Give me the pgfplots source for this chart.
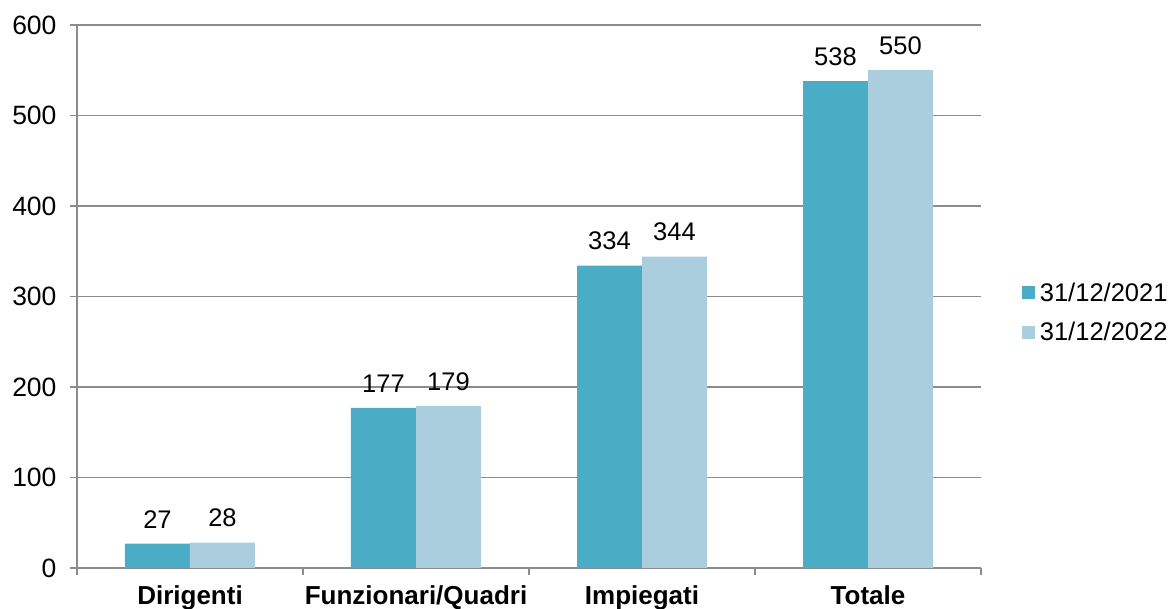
\documentclass[border=0pt]{standalone}
\usepackage{pgfplots}
\pgfplotsset{compat=1.18}
\usepackage{fontspec}
\setmainfont{Liberation Sans}
\definecolor{darkb}{RGB}{75,172,198}
\definecolor{lightb}{RGB}{170,206,222}
\definecolor{gridc}{RGB}{140,140,140}
\begin{document}
\begin{tikzpicture}
\clip (-77pt,-41pt) rectangle (1094pt,568pt);
\begin{axis}[
  at={(0,0)}, anchor=south west,
  scale only axis, width=904pt, height=543pt,
  ymin=0, ymax=600, ytick={0,100,...,600},
  xmin=-0.5, xmax=3.5,
  xtick={-0.5,0.5,1.5,2.5,3.5},
  xticklabels={},
  extra x ticks={0,1,2,3},
  extra x tick labels={Dirigenti, Funzionari/Quadri, Impiegati, Totale},
  extra x tick style={major tick length=0pt, tick label style={font=\fontsize{26}{30}\selectfont\bfseries, yshift=-14pt}},
  axis lines*=left,
  tick align=outside,
  major tick length=7pt,
  ymajorgrids,
  grid style={gridc, line width=1.5pt},
  axis line style={gridc, line width=1.5pt},
  tick style={gridc, line width=1.5pt},
  y tick label style={font=\fontsize{26.5}{30}\selectfont, xshift=-10pt},
  /pgf/number format/assume math mode=true,
  ybar=0pt, bar width=65pt,
  nodes near coords,
  every node near coord/.append style={font=\fontsize{25.5}{30}\selectfont, yshift=12pt, text=black},
  legend style={draw=none, fill=none, at={(1.045,0.4705)}, anchor=west, inner sep=0pt,
    font=\fontsize{25.5}{30}\selectfont, row sep=16pt, column sep=3pt},
  legend cell align=left,
]
\addplot[fill=darkb, draw=none, legend image code/.code={\fill[darkb] (0pt,-6.5pt) rectangle (13pt,6.5pt);}]
  coordinates {(0,27) (1,177) (2,334) (3,538)};
\addplot[fill=lightb, draw=none, legend image code/.code={\fill[lightb] (0pt,-6.5pt) rectangle (13pt,6.5pt);}]
  coordinates {(0,28) (1,179) (2,344) (3,550)};
\legend{31/12/2021, 31/12/2022}
\end{axis}
\end{tikzpicture}
\end{document}
